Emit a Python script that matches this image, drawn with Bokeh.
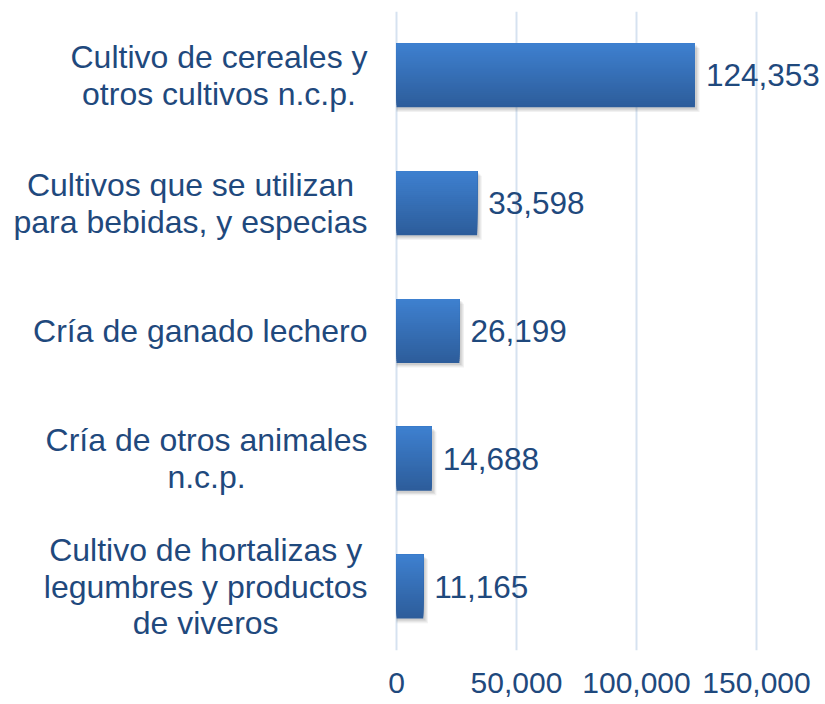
from bokeh.plotting import figure
from bokeh.models import ColumnDataSource, FactorRange, Range1d, FixedTicker, NumeralTickFormatter
from bokeh.transform import dodge
from bokeh.core.properties import value
from bokeh.embed import file_html
from bokeh.resources import INLINE

categories = [
    "Cultivo de cereales y\notros cultivos n.c.p.",
    "Cultivos que se utilizan\npara bebidas, y especias",
    "Cría de ganado lechero",
    "Cría de otros animales\nn.c.p.",
    "Cultivo de hortalizas y\nlegumbres y productos\nde viveros",
]
values = [124353, 33598, 26199, 14688, 11165]
value_labels = ["124,353", "33,598", "26,199", "14,688", "11,165"]
x_ticks = [0, 50000, 100000, 150000]

TEXT = "#1F497D"
FONT = "Liberation Sans"
CAT_FS = 32

W, H = 825, 704
ZERO_PX = 396          # pixel of x = 0
UPP = 50000 / 120      # data units per pixel
LABEL_RIGHT_PX = 367   # right edge of category label blocks

# Arial / Liberation Sans advance widths (per 1000 em)
AW = {" ": 278, ",": 278, ".": 278, "C": 722, "a": 556, "b": 556, "c": 500, "d": 556,
      "e": 556, "g": 556, "h": 556, "i": 222, "í": 278, "l": 222, "m": 833, "n": 556,
      "o": 556, "p": 556, "q": 556, "r": 333, "s": 500, "t": 278, "u": 556, "v": 500,
      "y": 500, "z": 500}

def block_width(s):
    return max(sum(AW.get(ch, 556) for ch in line) for line in s.split("\n")) * CAT_FS / 1000

cat_x = [(LABEL_RIGHT_PX - block_width(c) / 2 - ZERO_PX) * UPP for c in categories]

src = ColumnDataSource(dict(cat=categories, value=values, label=value_labels, cat_x=cat_x))

p = figure(width=W, height=H, output_backend="svg", toolbar_location=None,
           y_range=FactorRange(factors=list(reversed(categories))),
           x_range=Range1d(-ZERO_PX * UPP, (W - ZERO_PX) * UPP),
           min_border_left=0, min_border_right=0, min_border_top=11, min_border_bottom=54)
p.outline_line_color = None
p.background_fill_color = "white"
p.border_fill_color = "white"
p.yaxis.visible = False

# grid
p.ygrid.grid_line_color = None
p.xgrid.grid_line_color = "#D6E2F0"
p.xgrid.grid_line_width = 2
p.xaxis.ticker = FixedTicker(ticks=x_ticks)

# soft shadow
for off, a in [(0.036, 0.08), (0.026, 0.10), (0.016, 0.12)]:
    p.hbar(y=dodge("cat", -off, range=p.y_range), right=dodge("value", off * 127.8 * UPP, range=p.x_range),
           left=0, height=0.5, source=src, fill_color="#505050", fill_alpha=a, line_color=None)

# vertical gradient bar: stacked top-anchored bars
N = 32
top_c = (0x3E, 0x80, 0xCF)
bot_c = (0x2D, 0x5D, 0x9B)
for i in range(N):
    t = i / (N - 1)
    c = tuple(int(round(bot_c[k] + (top_c[k] - bot_c[k]) * t)) for k in range(3))
    col = "#%02x%02x%02x" % c
    hh = 0.5 * (N - i) / N
    p.hbar(y=dodge("cat", 0.25 - hh / 2, range=p.y_range), right="value", left=0, height=hh,
           source=src, fill_color=col, line_color=None)

# value labels
p.text(x="value", y="cat", text="label", source=src, x_offset=11,
       text_baseline="middle", text_align="left", text_color=TEXT,
       text_font=value(FONT), text_font_size="31.5px")

# category labels (lines centred within a right-aligned block)
p.text(x="cat_x", y="cat", text="cat", source=src,
       text_baseline="middle", text_align="center", text_color=TEXT,
       text_font=value(FONT), text_font_size=f"{CAT_FS}px", text_line_height=1.02)

ax = p.xaxis
ax.axis_line_color = None
ax.major_tick_line_color = None
ax.minor_tick_line_color = None
ax.major_label_text_color = TEXT
ax.major_label_text_font = FONT
ax.formatter = NumeralTickFormatter(format="0,0")
ax.major_label_text_font_size = "30px"
ax.major_label_standoff = 16

open("out.html", "w").write(file_html(p, INLINE))
